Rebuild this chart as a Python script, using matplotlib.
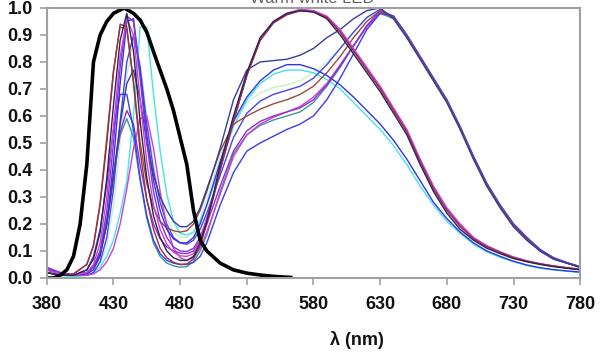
import matplotlib
matplotlib.use('Agg')
import matplotlib.pyplot as plt

plt.rcParams['font.family'] = ['Liberation Sans', 'DejaVu Sans']

# wavelength grid (nm) shared by the coloured spectra
wl = [380, 390, 400, 410, 415, 420, 425, 430, 435, 440, 445, 450, 455, 460, 465,
      470, 475, 480, 485, 490, 495, 500, 505, 510, 520, 530, 540, 550, 560, 570,
      580, 590, 600, 610, 620, 630, 640, 650, 660, 670, 680, 690, 700, 710, 720,
      730, 740, 750, 760, 770, 780]

# blue LED chip alone (thick black)
chip_wl = [380, 385, 390, 395, 400, 405, 410, 415, 420, 425, 430, 438, 445, 450,
           455, 462, 470, 475, 480, 485, 490, 495, 500, 510, 520, 530, 540, 550, 563]
chip_val = [0.0, 0.0, 0.01, 0.03, 0.08, 0.2, 0.42, 0.8, 0.9, 0.95, 0.98, 1.0, 0.98,
            0.955, 0.91, 0.81, 0.7, 0.62, 0.52, 0.42, 0.25, 0.14, 0.1, 0.055, 0.03,
            0.018, 0.011, 0.006, 0.002]

# yellow-phosphor LEDs (phosphor peak ~575 nm)
s_dark = [0.02, 0.01, 0.01, 0.03, 0.07, 0.17, 0.37, 0.64, 0.88, 0.98, 0.84, 0.58, 0.37,
          0.23, 0.15, 0.1, 0.075, 0.065, 0.065, 0.08, 0.13, 0.21, 0.31, 0.42, 0.6,
          0.76, 0.89, 0.95, 0.98, 0.99, 0.985, 0.96, 0.9, 0.83, 0.76, 0.69, 0.61,
          0.53, 0.42, 0.32, 0.24, 0.18, 0.14, 0.11, 0.09, 0.072, 0.06, 0.05, 0.042,
          0.036, 0.03]
s_darkred = [0.02, 0.01, 0.015, 0.05, 0.12, 0.27, 0.5, 0.76, 0.94, 0.93, 0.72, 0.47,
             0.29, 0.18, 0.11, 0.075, 0.058, 0.05, 0.052, 0.07, 0.12, 0.2, 0.3, 0.4,
             0.58, 0.75, 0.88, 0.945, 0.975, 0.99, 0.985, 0.965, 0.91, 0.84, 0.77,
             0.7, 0.62, 0.54, 0.43, 0.33, 0.25, 0.19, 0.145, 0.115, 0.095, 0.075,
             0.062, 0.052, 0.044, 0.038, 0.032]
s_magA = [0.03, 0.015, 0.01, 0.02, 0.05, 0.13, 0.3, 0.56, 0.82, 0.96, 0.9, 0.66, 0.43,
          0.27, 0.18, 0.125, 0.095, 0.082, 0.08, 0.09, 0.14, 0.22, 0.31, 0.41, 0.59,
          0.76, 0.885, 0.95, 0.98, 0.995, 0.99, 0.97, 0.92, 0.85, 0.78, 0.71, 0.63,
          0.55, 0.44, 0.34, 0.26, 0.2, 0.15, 0.12, 0.097, 0.078, 0.064, 0.053, 0.045,
          0.038, 0.032]
s_purpA = [0.035, 0.02, 0.01, 0.02, 0.04, 0.1, 0.25, 0.5, 0.78, 0.97, 0.95, 0.74, 0.5,
           0.32, 0.21, 0.15, 0.115, 0.1, 0.098, 0.11, 0.15, 0.22, 0.3, 0.4, 0.58,
           0.75, 0.88, 0.945, 0.975, 0.99, 0.99, 0.965, 0.915, 0.845, 0.775, 0.705,
           0.625, 0.545, 0.435, 0.335, 0.255, 0.195, 0.148, 0.118, 0.095, 0.076,
           0.062, 0.052, 0.044, 0.037, 0.031]

# green phosphor LEDs (peak ~565 nm)
s_blueC = [0.03, 0.02, 0.01, 0.015, 0.03, 0.08, 0.2, 0.43, 0.72, 0.95, 0.96, 0.76,
           0.53, 0.36, 0.25, 0.18, 0.145, 0.13, 0.13, 0.15, 0.2, 0.27, 0.35, 0.43,
           0.58, 0.67, 0.73, 0.77, 0.79, 0.79, 0.775, 0.75, 0.715, 0.67, 0.62, 0.57,
           0.51, 0.44, 0.36, 0.28, 0.22, 0.17, 0.13, 0.1, 0.08, 0.062, 0.048, 0.038,
           0.031, 0.026, 0.022]
s_cyanC = [0.02, 0.01, 0.005, 0.01, 0.02, 0.04, 0.08, 0.14, 0.24, 0.36, 0.6, 0.93,
           0.93, 0.68, 0.47, 0.31, 0.21, 0.165, 0.16, 0.17, 0.21, 0.27, 0.34, 0.42,
           0.56, 0.66, 0.72, 0.755, 0.77, 0.77, 0.76, 0.735, 0.7, 0.65, 0.6, 0.55,
           0.49, 0.42, 0.34, 0.27, 0.21, 0.165, 0.125, 0.097, 0.076, 0.06, 0.046,
           0.036, 0.03, 0.025, 0.021]

# red phosphor LEDs (peak ~630 nm)
s_navy = [0.02, 0.01, 0.01, 0.02, 0.04, 0.09, 0.2, 0.38, 0.57, 0.72, 0.77, 0.66, 0.5,
          0.38, 0.3, 0.25, 0.21, 0.19, 0.19, 0.21, 0.26, 0.33, 0.4, 0.48, 0.66,
          0.77, 0.8, 0.805, 0.81, 0.825, 0.85, 0.89, 0.92, 0.96, 0.99, 1.0, 0.96,
          0.89, 0.81, 0.73, 0.65, 0.55, 0.44, 0.34, 0.26, 0.19, 0.14, 0.1, 0.07,
          0.055, 0.04]
s_green = [0.02, 0.01, 0.01, 0.01, 0.02, 0.05, 0.12, 0.27, 0.5, 0.75, 0.88, 0.8, 0.6,
           0.42, 0.3, 0.22, 0.17, 0.15, 0.15, 0.17, 0.22, 0.29, 0.37, 0.45, 0.58,
           0.65, 0.685, 0.705, 0.715, 0.73, 0.76, 0.8, 0.85, 0.91, 0.96, 0.99, 0.96,
           0.89, 0.81, 0.73, 0.65, 0.55, 0.44, 0.34, 0.26, 0.19, 0.14, 0.1, 0.07,
           0.055, 0.04]
s_blueB = [0.03, 0.015, 0.01, 0.01, 0.02, 0.06, 0.15, 0.33, 0.58, 0.8, 0.9, 0.78,
           0.57, 0.4, 0.28, 0.2, 0.15, 0.13, 0.125, 0.14, 0.18, 0.24, 0.31, 0.38,
           0.52, 0.61, 0.655, 0.68, 0.695, 0.71, 0.74, 0.79, 0.85, 0.91, 0.965, 0.995,
           0.965, 0.895, 0.815, 0.735, 0.655, 0.555, 0.445, 0.345, 0.265, 0.195,
           0.145, 0.1, 0.072, 0.055, 0.04]
s_brown = [0.02, 0.01, 0.015, 0.05, 0.12, 0.28, 0.52, 0.77, 0.93, 0.92, 0.73, 0.5,
           0.35, 0.26, 0.21, 0.185, 0.175, 0.17, 0.175, 0.2, 0.25, 0.32, 0.4, 0.47,
           0.57, 0.6, 0.625, 0.645, 0.66, 0.68, 0.71, 0.76, 0.82, 0.89, 0.95, 0.99,
           0.965, 0.895, 0.815, 0.735, 0.655, 0.555, 0.445, 0.345, 0.265, 0.195,
           0.145, 0.1, 0.072, 0.055, 0.04]
s_teal = [0.02, 0.01, 0.01, 0.02, 0.04, 0.1, 0.22, 0.38, 0.53, 0.59, 0.52, 0.36, 0.22,
          0.13, 0.08, 0.055, 0.045, 0.04, 0.042, 0.06, 0.1, 0.16, 0.24, 0.32, 0.46,
          0.53, 0.565, 0.585, 0.6, 0.615, 0.65, 0.71, 0.78, 0.86, 0.93, 0.98, 0.96,
          0.89, 0.81, 0.73, 0.65, 0.55, 0.44, 0.34, 0.26, 0.19, 0.14, 0.1, 0.07,
          0.055, 0.04]
s_magB = [0.03, 0.015, 0.01, 0.01, 0.015, 0.03, 0.06, 0.11, 0.2, 0.33, 0.48, 0.59,
          0.6, 0.48, 0.32, 0.19, 0.11, 0.075, 0.065, 0.075, 0.11, 0.17, 0.24, 0.31,
          0.45, 0.53, 0.57, 0.595, 0.615, 0.635, 0.67, 0.72, 0.79, 0.86, 0.93, 0.985,
          0.965, 0.895, 0.815, 0.735, 0.655, 0.555, 0.445, 0.345, 0.265, 0.195,
          0.145, 0.1, 0.072, 0.055, 0.04]
s_blueLow = [0.03, 0.02, 0.01, 0.03, 0.08, 0.18, 0.35, 0.55, 0.68, 0.68, 0.55, 0.37,
             0.23, 0.14, 0.09, 0.065, 0.055, 0.05, 0.05, 0.058, 0.08, 0.13, 0.2, 0.27,
             0.39, 0.47, 0.5, 0.525, 0.55, 0.57, 0.6, 0.66, 0.74, 0.83, 0.92, 0.98,
             0.97, 0.9, 0.82, 0.74, 0.66, 0.56, 0.45, 0.35, 0.27, 0.2, 0.15, 0.105,
             0.075, 0.057, 0.042]
s_purpB = [0.04, 0.02, 0.01, 0.02, 0.04, 0.09, 0.2, 0.37, 0.54, 0.62, 0.57, 0.42, 0.29,
           0.2, 0.145, 0.115, 0.1, 0.092, 0.09, 0.1, 0.14, 0.2, 0.27, 0.34, 0.47,
           0.545, 0.58, 0.6, 0.615, 0.63, 0.66, 0.715, 0.785, 0.86, 0.935, 0.99, 0.97,
           0.9, 0.82, 0.74, 0.66, 0.56, 0.45, 0.35, 0.27, 0.2, 0.15, 0.105, 0.075,
           0.057, 0.042]

spectra = [
    (s_green, '#c4f2c8'),
    (s_cyanC, '#44e4ee'),
    (s_blueB, '#4646ea'),
    (s_teal, '#3a9a96'),
    (s_magB, '#d23cd2'),
    (s_purpB, '#8a30d8'),
    (s_blueLow, '#3c3cf0'),
    (s_brown, '#9a4a3a'),
    (s_blueC, '#3434e4'),
    (s_navy, '#3b3b9e'),
    (s_purpA, '#8a2ee0'),
    (s_magA, '#d040d0'),
    (s_darkred, '#9a3048'),
    (s_dark, '#262650'),
]

fig = plt.figure(figsize=(6, 3.53), dpi=100)
ax = fig.add_axes([0.078, 0.2125, 0.889, 0.765])

for vals, col in spectra:
    ax.plot(wl, vals, color=col, linewidth=1.0)
ax.plot(chip_wl, chip_val, color='black', linewidth=2.6)

ax.set_xlim(380, 780)
ax.set_ylim(0, 1.0)
ax.set_xticks(range(380, 781, 50))
ax.set_yticks([i / 10 for i in range(11)])
ax.set_yticklabels(['%.1f' % (i / 10) for i in range(11)])

for sp in ax.spines.values():
    sp.set_color('#a0a0a0')
    sp.set_linewidth(1.5)
ax.tick_params(axis='both', colors='#a0a0a0', length=5, width=1.2, direction='out',
               labelsize=13, labelcolor='#111111')
ax.tick_params(axis='x', pad=8)
ax.tick_params(axis='y', pad=5)
for lab in ax.get_xticklabels() + ax.get_yticklabels():
    lab.set_fontweight('bold')

fig.text(0.595, 1 - 340 / 353, 'λ (nm)', ha='center', va='center',
         fontsize=13, fontweight='bold', color='#111111')
# title is cut off by the top edge of the picture, as in the source
fig.text(0.52, 1 - 3 / 353, 'Warm white LED', ha='center', va='baseline',
         fontsize=12, color='#666666')

fig.savefig('out.png', dpi=100)
